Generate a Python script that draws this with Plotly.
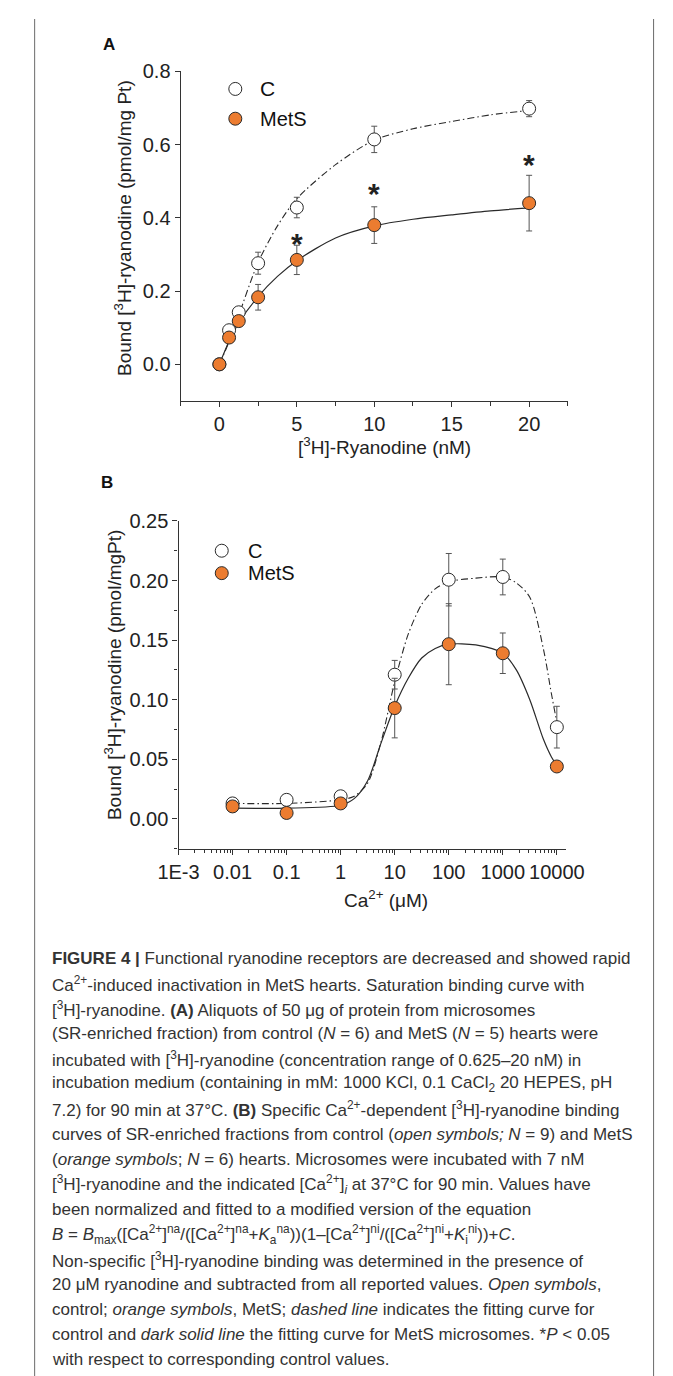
import plotly.graph_objects as go

W, H = 673, 1376
OFF = 8  # default page body margin of the written html

# ---------------- Panel A data ----------------
A_X = [0, 0.625, 1.25, 2.5, 5, 10, 20]
A_C_Y = [0, 0.093, 0.142, 0.276, 0.428, 0.614, 0.698]
A_C_ERR = [0, 0.008, 0.012, 0.030, 0.028, 0.036, 0.022]
A_M_Y = [0, 0.073, 0.118, 0.183, 0.285, 0.380, 0.440]
A_M_ERR = [0, 0.006, 0.010, 0.035, 0.040, 0.050, 0.076]
# fitted curves
A_FIT_X = [0, 0.625, 1.25, 2.5, 3.75, 5, 7.5, 10, 12.5, 15, 17.5, 20]
A_C_FIT = [0, 0.062, 0.134, 0.278, 0.378, 0.452, 0.545, 0.612, 0.643, 0.663, 0.681, 0.693]
A_M_FIT = [0, 0.063, 0.113, 0.185, 0.240, 0.283, 0.345, 0.378, 0.396, 0.408, 0.419, 0.427]
A_STAR_X = [5, 10, 20]
A_STAR_Y = [0.351, 0.489, 0.568]
A_XTICKS = [0, 5, 10, 15, 20]
A_YTICKS = [0.0, 0.2, 0.4, 0.6, 0.8]

# ---------------- Panel B data ----------------
B_X = [0.01, 0.1, 1, 10, 100, 1000, 10000]
B_C_Y = [0.013, 0.016, 0.019, 0.121, 0.2007, 0.203, 0.077]
B_C_ERR = [0.002, 0.002, 0.003, 0.012, 0.022, 0.015, 0.0175]
B_M_Y = [0.0105, 0.005, 0.013, 0.093, 0.1466, 0.139, 0.044]
B_M_ERR = [0.002, 0.004, 0.003, 0.025, 0.034, 0.017, 0.002]
B_FIT_X = [0.01, 0.1, 1, 1.78, 3.16, 5.62, 10, 17.8, 31.6, 56.2, 100, 316, 1000,
           1780, 3160, 5620, 7940, 10000]
B_C_FIT = [0.013, 0.013, 0.016, 0.019, 0.030, 0.065, 0.115, 0.155, 0.180, 0.193,
           0.199, 0.202, 0.203, 0.198, 0.186, 0.143, 0.105, 0.081]
B_M_FIT = [0.009, 0.009, 0.0115, 0.017, 0.032, 0.064, 0.0945, 0.118, 0.135, 0.143,
           0.1466, 0.146, 0.139, 0.125, 0.100, 0.067, 0.052, 0.045]
B_STAR_X = [1000]
B_STAR_Y = [0.1727]
B_XTICKS = [0.001, 0.01, 0.1, 1, 10, 100, 1000, 10000]
B_XTICKTEXT = ["1E-3", "0.01", "0.1", "1", "10", "100", "1000", "10000"]
B_YTICKS = [0.00, 0.05, 0.10, 0.15, 0.20, 0.25]

SERIES_NAMES = ["C", "MetS"]

CAPTION_LINES = [
    "<b>FIGURE 4 |</b> Functional ryanodine receptors are decreased and showed rapid",
    "Ca<sup>2+</sup>-induced inactivation in MetS hearts. Saturation binding curve with",
    "[<sup>3</sup>H]-ryanodine. <b>(A)</b> Aliquots of 50 \u03bcg of protein from microsomes",
    "(SR-enriched fraction) from control (<i>N</i> = 6) and MetS (<i>N</i> = 5) hearts were",
    "incubated with [<sup>3</sup>H]-ryanodine (concentration range of 0.625\u201320 nM) in",
    "incubation medium (containing in mM: 1000 KCl, 0.1 CaCl<sub>2</sub> 20 HEPES, pH",
    "7.2) for 90 min at 37\u00b0C. <b>(B)</b> Specific Ca<sup>2+</sup>-dependent [<sup>3</sup>H]-ryanodine binding",
    "curves of SR-enriched fractions from control (<i>open symbols; N</i> = 9) and MetS",
    "(<i>orange symbols</i>; <i>N</i> = 6) hearts. Microsomes were incubated with 7 nM",
    "[<sup>3</sup>H]-ryanodine and the indicated [Ca<sup>2+</sup>]<sub><i>i</i></sub> at 37\u00b0C for 90 min. Values have",
    "been normalized and fitted to a modified version of the equation",
    "<i>B</i> = <i>B</i><sub>max</sub>([Ca<sup>2+</sup>]<sup>na</sup>/([Ca<sup>2+</sup>]<sup>na</sup>+<i>K</i><sub>a</sub><sup>na</sup>))(1\u2013[Ca<sup>2+</sup>]<sup>ni</sup>/([Ca<sup>2+</sup>]<sup>ni</sup>+<i>K</i><sub>i</sub><sup>ni</sup>))+<i>C</i>.",
    "Non-specific [<sup>3</sup>H]-ryanodine binding was determined in the presence of",
    "20 \u03bcM ryanodine and subtracted from all reported values. <i>Open symbols</i>,",
    "control; <i>orange symbols</i>, MetS; <i>dashed line</i> indicates the fitting curve for",
    "control and <i>dark solid line</i> the fitting curve for MetS microsomes. *<i>P</i> &lt; 0.05",
    "with respect to corresponding control values.",
]

# ---------------- styles ----------------
FONT = "Liberation Sans, Arial, Helvetica, sans-serif"
ORANGE = "#EC7C30"
DARK = "#2a2a2a"
ERRC = "#555555"
MSIZE = 13


def px(x):
    return (x - OFF) / W


def py(y):
    return 1 - (y - OFF) / H


fig = go.Figure()


def add_panel(xs, cy, cerr, my, merr, fx, cfit, mfit, xa, ya):
    fig.add_trace(go.Scatter(x=fx, y=cfit, mode="lines", line=dict(color=DARK, width=1.1, dash="7px,3px,1.5px,3px", shape="spline", smoothing=0.8),
                             xaxis=xa, yaxis=ya, showlegend=False, hoverinfo="skip"))
    fig.add_trace(go.Scatter(x=fx, y=mfit, mode="lines", line=dict(color=DARK, width=1.2, shape="spline", smoothing=0.8),
                             xaxis=xa, yaxis=ya, showlegend=False, hoverinfo="skip"))
    fig.add_trace(go.Scatter(x=xs, y=cy, mode="markers", name=SERIES_NAMES[0],
                             marker=dict(size=MSIZE, color="white", line=dict(color=DARK, width=1)),
                             error_y=dict(type="data", array=cerr, color=ERRC, thickness=1, width=3),
                             xaxis=xa, yaxis=ya, showlegend=False))
    fig.add_trace(go.Scatter(x=xs, y=my, mode="markers", name=SERIES_NAMES[1],
                             marker=dict(size=MSIZE, color=ORANGE, line=dict(color=DARK, width=1)),
                             error_y=dict(type="data", array=merr, color=ERRC, thickness=1, width=3),
                             xaxis=xa, yaxis=ya, showlegend=False))


add_panel(A_X, A_C_Y, A_C_ERR, A_M_Y, A_M_ERR, A_FIT_X, A_C_FIT, A_M_FIT, "x", "y")
add_panel(B_X, B_C_Y, B_C_ERR, B_M_Y, B_M_ERR, B_FIT_X, B_C_FIT, B_M_FIT, "x2", "y2")

tickfont = dict(family=FONT, size=20, color="#222222")
axcommon = dict(showline=True, linecolor="#333333", linewidth=1.3, ticks="outside", ticklen=5,
                tickwidth=1.2, tickcolor="#333333", showgrid=False, zeroline=False,
                tickfont=tickfont, mirror=False)

fig.update_layout(
    width=W, height=H, margin=dict(l=0, r=0, t=0, b=0),
    paper_bgcolor="white", plot_bgcolor="white", showlegend=False,
    xaxis=dict(domain=[px(169), px(580)], range=[-2.5, 22.5], anchor="y",
               tickvals=A_XTICKS, minor=dict(dtick=2.5, ticks="outside", ticklen=4, tickcolor="#333333"),
               **axcommon),
    yaxis=dict(domain=[py(393), py(60.7)], range=[-0.1, 0.8], anchor="x",
               tickvals=A_YTICKS, tickformat=".1f", **axcommon),
    xaxis2=dict(domain=[px(166.7), px(578.3)], type="log", range=[-3, 4.174], anchor="y2",
                tickvals=B_XTICKS, ticktext=B_XTICKTEXT,
                minor=dict(tickvals=[m * 10 ** e for e in range(-3, 4) for m in range(2, 10)],
                           ticks="outside", ticklen=3, tickcolor="#333333"),
                **axcommon),
    yaxis2=dict(domain=[py(845), py(514)], range=[-0.0255, 0.25], anchor="x2",
                tickvals=B_YTICKS, tickformat=".2f",
                minor=dict(dtick=0.025, ticks="outside", ticklen=3, tickcolor="#333333"),
                **axcommon),
)

ann = []
# significance stars
for sx, sy in zip(A_STAR_X, A_STAR_Y):
    ann.append(dict(x=sx, y=sy, xref="x", yref="y", text="<b>*</b>", showarrow=False,
                    font=dict(family=FONT, size=30, color="#222222"), yshift=-8))
for sx, sy in zip(B_STAR_X, B_STAR_Y):
    ann.append(dict(x=sx, y=sy, xref="x2", yref="y2", text="<b>*</b>", showarrow=False,
                    font=dict(family=FONT, size=30, color="#222222"), yshift=-8))

# panel letters
ann.append(dict(x=px(93), y=py(34), xref="paper", yref="paper", text="<b>A</b>", showarrow=False,
                font=dict(family=FONT, size=17, color="#111111"), xanchor="center", yanchor="middle"))
ann.append(dict(x=px(91), y=py(475.5), xref="paper", yref="paper", text="<b>B</b>", showarrow=False,
                font=dict(family=FONT, size=17, color="#111111"), xanchor="center", yanchor="middle"))

# axis titles
tf = dict(family=FONT, size=19, color="#222222")
ann.append(dict(x=px(108.5), y=py(219), xref="paper", yref="paper", textangle=-90, showarrow=False,
                text="Bound [<sup>3</sup>H]-ryanodine (pmol/mg Pt)", font=tf, xanchor="center", yanchor="middle"))
ann.append(dict(x=px(385), y=py(438), xref="paper", yref="paper", showarrow=False,
                text="[<sup>3</sup>H]-Ryanodine (nM)", font=tf, xanchor="center", yanchor="middle"))
ann.append(dict(x=px(96.5), y=py(669), xref="paper", yref="paper", textangle=-90, showarrow=False,
                text="Bound [<sup>3</sup>H]-ryanodine (pmol/mgPt)", font=tf, xanchor="center", yanchor="middle"))
ann.append(dict(x=px(387), y=py(895), xref="paper", yref="paper", showarrow=False,
                text="Ca<sup>2+</sup> (\u03bcM)", font=tf, xanchor="center", yanchor="middle"))

# legends (drawn by hand)
shapes = []


def legend_item(cx, cy, fill, label, tx, size):
    shapes.append(dict(type="circle", xref="paper", yref="paper", xsizemode="pixel", ysizemode="pixel",
                       xanchor=px(cx), yanchor=py(cy), x0=-6.5, x1=6.5, y0=-6.5, y1=6.5,
                       fillcolor=fill, line=dict(color=DARK, width=1)))
    ann.append(dict(x=px(tx), y=py(cy), xref="paper", yref="paper", text=label, showarrow=False,
                    xanchor="left", yanchor="middle", font=dict(family=FONT, size=size, color="#111111")))


legend_item(227, 78.5, "white", SERIES_NAMES[0], 251, 21)
legend_item(227, 108.5, ORANGE, SERIES_NAMES[1], 251, 20)
legend_item(212.6, 544, "white", SERIES_NAMES[0], 238, 20)
legend_item(212.6, 566.6, ORANGE, SERIES_NAMES[1], 238, 20)

# caption
for i, line in enumerate(CAPTION_LINES):
    ann.append(dict(x=px(30), y=py(955 + i * 25.3), xref="paper", yref="paper", text=line,
                    showarrow=False, xanchor="left", yanchor="middle", align="left",
                    font=dict(family=FONT, size=17, color="#333333")))

# frame lines
shapes.append(dict(type="line", xref="paper", yref="paper", x0=px(14), x1=px(14), y0=0, y1=1,
                   line=dict(color="#6a6a6a", width=1)))
shapes.append(dict(type="line", xref="paper", yref="paper", x0=px(671), x1=px(671), y0=0, y1=1,
                   line=dict(color="#6a6a6a", width=1)))

fig.update_layout(annotations=ann, shapes=shapes)

fig.write_html("out.html", config={"displayModeBar": False})
